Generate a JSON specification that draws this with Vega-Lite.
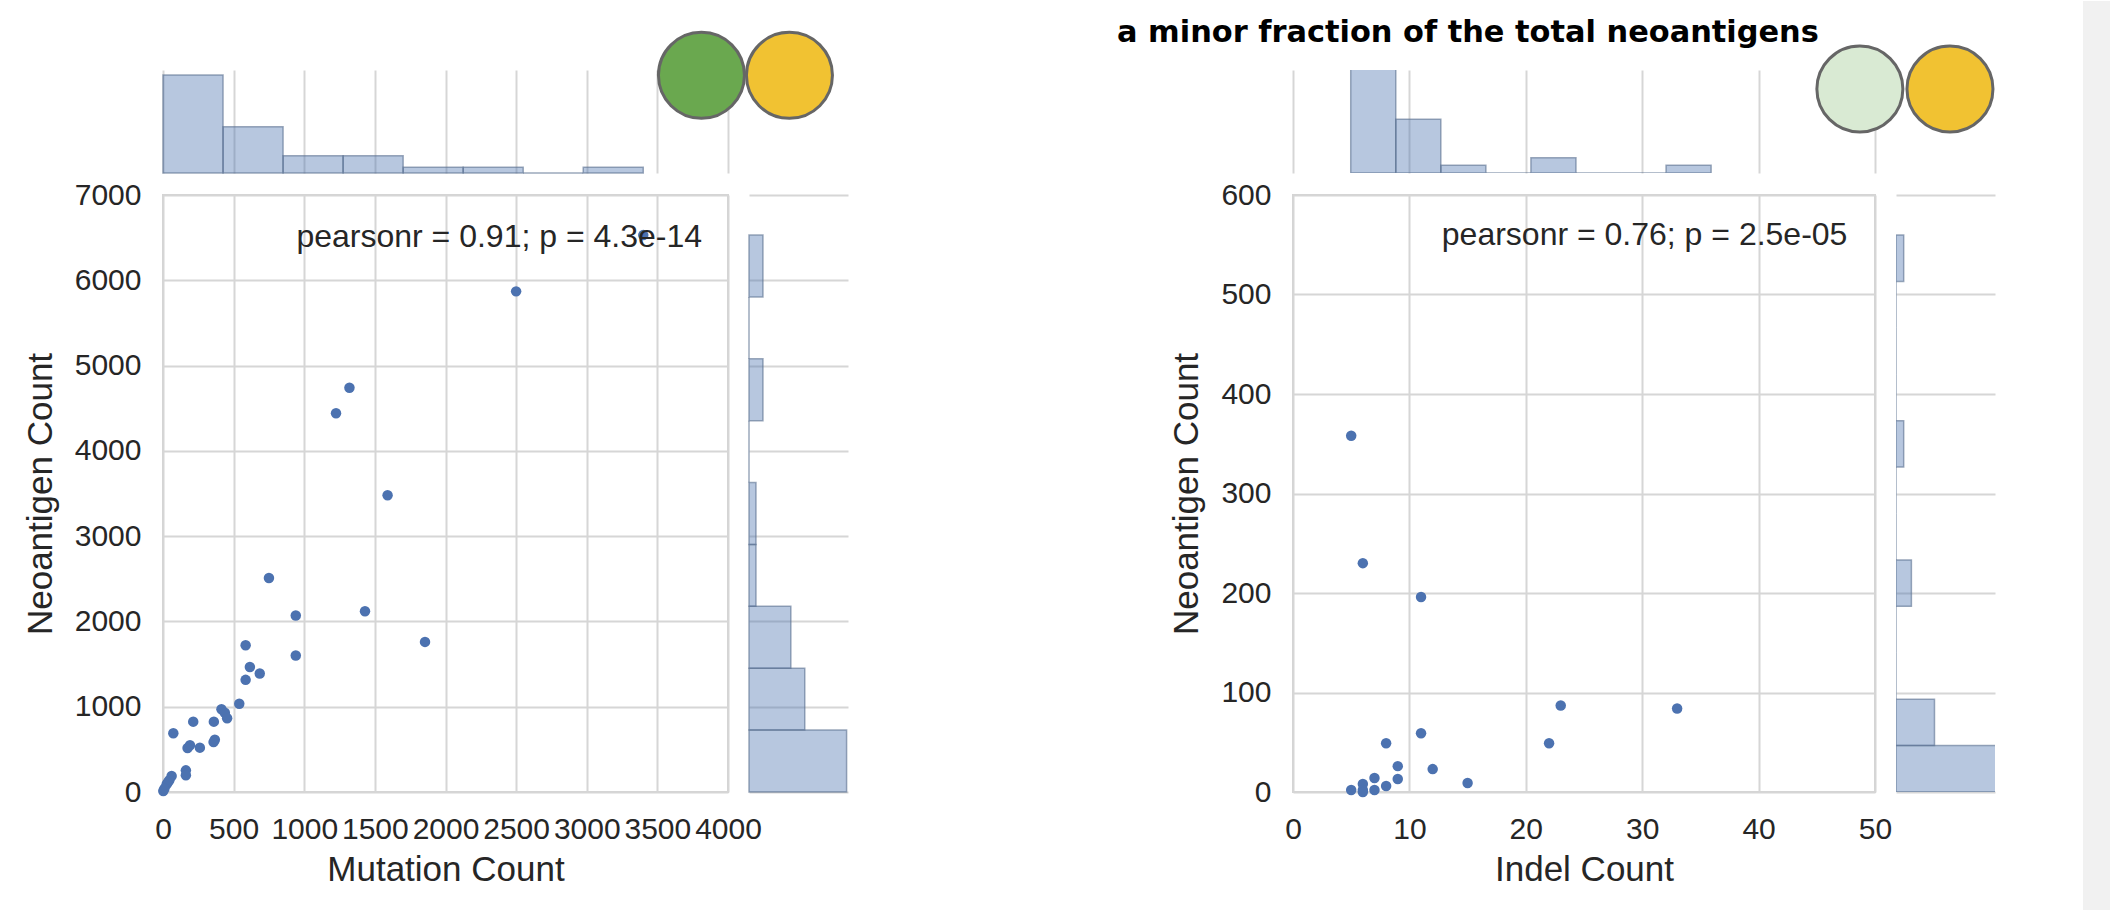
{
  "$schema": "https://vega.github.io/schema/vega-lite/v6.json",
  "background": "white",
  "padding": {"left": 22, "top": 0, "right": 0, "bottom": 0},
  "columns": 5,
  "align": "each",
  "bounds": "flush",
  "spacing": {"row": 22, "column": 21},
  "datasets": {
    "left_points": [
      {"mutation_count": 3400, "neoantigen_count": 6530},
      {"mutation_count": 2500, "neoantigen_count": 5870},
      {"mutation_count": 1320, "neoantigen_count": 4740},
      {"mutation_count": 1225, "neoantigen_count": 4440},
      {"mutation_count": 1590, "neoantigen_count": 3480},
      {"mutation_count": 750, "neoantigen_count": 2510},
      {"mutation_count": 940, "neoantigen_count": 2070},
      {"mutation_count": 1430, "neoantigen_count": 2120},
      {"mutation_count": 1855, "neoantigen_count": 1760},
      {"mutation_count": 940, "neoantigen_count": 1600},
      {"mutation_count": 585, "neoantigen_count": 1720},
      {"mutation_count": 615, "neoantigen_count": 1465},
      {"mutation_count": 685, "neoantigen_count": 1390},
      {"mutation_count": 585, "neoantigen_count": 1315},
      {"mutation_count": 540, "neoantigen_count": 1035},
      {"mutation_count": 414, "neoantigen_count": 970},
      {"mutation_count": 438, "neoantigen_count": 930},
      {"mutation_count": 454, "neoantigen_count": 865},
      {"mutation_count": 360, "neoantigen_count": 825},
      {"mutation_count": 214, "neoantigen_count": 825},
      {"mutation_count": 73, "neoantigen_count": 688},
      {"mutation_count": 367, "neoantigen_count": 612},
      {"mutation_count": 358, "neoantigen_count": 585},
      {"mutation_count": 261, "neoantigen_count": 520},
      {"mutation_count": 191, "neoantigen_count": 548},
      {"mutation_count": 174, "neoantigen_count": 515},
      {"mutation_count": 162, "neoantigen_count": 254},
      {"mutation_count": 162, "neoantigen_count": 196},
      {"mutation_count": 61, "neoantigen_count": 188},
      {"mutation_count": 45, "neoantigen_count": 137},
      {"mutation_count": 26, "neoantigen_count": 90},
      {"mutation_count": 2, "neoantigen_count": 12},
      {"mutation_count": 35, "neoantigen_count": 115},
      {"mutation_count": 10, "neoantigen_count": 40}
    ],
    "left_mut_hist": [
      {"bin_start": 0, "bin_end": 425, "count": 17},
      {"bin_start": 425, "bin_end": 850, "count": 8},
      {"bin_start": 850, "bin_end": 1275, "count": 3},
      {"bin_start": 1275, "bin_end": 1700, "count": 3},
      {"bin_start": 1700, "bin_end": 2125, "count": 1},
      {"bin_start": 2125, "bin_end": 2550, "count": 1},
      {"bin_start": 2550, "bin_end": 2975, "count": 0},
      {"bin_start": 2975, "bin_end": 3400, "count": 1}
    ],
    "left_neo_hist": [
      {"bin_start": 0, "bin_end": 725.6, "count": 14},
      {"bin_start": 725.6, "bin_end": 1451.1, "count": 8},
      {"bin_start": 1451.1, "bin_end": 2176.7, "count": 6},
      {"bin_start": 2176.7, "bin_end": 2902.2, "count": 1},
      {"bin_start": 2902.2, "bin_end": 3627.8, "count": 1},
      {"bin_start": 3627.8, "bin_end": 4353.3, "count": 0},
      {"bin_start": 4353.3, "bin_end": 5078.9, "count": 2},
      {"bin_start": 5078.9, "bin_end": 5804.4, "count": 0},
      {"bin_start": 5804.4, "bin_end": 6530, "count": 2}
    ],
    "right_points": [
      {"indel_count": 5, "neoantigen_count": 358},
      {"indel_count": 6, "neoantigen_count": 230},
      {"indel_count": 11, "neoantigen_count": 196},
      {"indel_count": 23, "neoantigen_count": 87},
      {"indel_count": 33, "neoantigen_count": 84},
      {"indel_count": 11, "neoantigen_count": 59},
      {"indel_count": 8, "neoantigen_count": 49},
      {"indel_count": 22, "neoantigen_count": 49},
      {"indel_count": 9, "neoantigen_count": 26},
      {"indel_count": 12, "neoantigen_count": 23},
      {"indel_count": 15, "neoantigen_count": 9},
      {"indel_count": 7, "neoantigen_count": 14},
      {"indel_count": 9, "neoantigen_count": 13},
      {"indel_count": 6, "neoantigen_count": 8},
      {"indel_count": 8, "neoantigen_count": 6},
      {"indel_count": 5, "neoantigen_count": 2},
      {"indel_count": 6, "neoantigen_count": 2},
      {"indel_count": 7, "neoantigen_count": 2},
      {"indel_count": 6, "neoantigen_count": 0}
    ],
    "right_indel_hist": [
      {"bin_start": 4.96, "bin_end": 8.83, "count": 14},
      {"bin_start": 8.83, "bin_end": 12.7, "count": 7},
      {"bin_start": 12.7, "bin_end": 16.57, "count": 1},
      {"bin_start": 16.57, "bin_end": 20.44, "count": 0},
      {"bin_start": 20.44, "bin_end": 24.31, "count": 2},
      {"bin_start": 24.31, "bin_end": 28.18, "count": 0},
      {"bin_start": 28.18, "bin_end": 32.05, "count": 0},
      {"bin_start": 32.05, "bin_end": 35.92, "count": 1}
    ],
    "right_neo_hist": [
      {"bin_start": 0, "bin_end": 46.65, "count": 16},
      {"bin_start": 46.65, "bin_end": 93.3, "count": 5},
      {"bin_start": 93.3, "bin_end": 139.95, "count": 0},
      {"bin_start": 139.95, "bin_end": 186.6, "count": 0},
      {"bin_start": 186.6, "bin_end": 233.25, "count": 2},
      {"bin_start": 233.25, "bin_end": 279.9, "count": 0},
      {"bin_start": 279.9, "bin_end": 326.55, "count": 0},
      {"bin_start": 326.55, "bin_end": 373.2, "count": 1},
      {"bin_start": 373.2, "bin_end": 419.85, "count": 0},
      {"bin_start": 419.85, "bin_end": 466.5, "count": 0},
      {"bin_start": 466.5, "bin_end": 513.15, "count": 0},
      {"bin_start": 513.15, "bin_end": 559.8, "count": 1}
    ]
  },
  "concat": [
    {
      "width": 565, "height": 103,
      "layer": [
        {
          "data": {"name": "left_mut_hist"},
          "mark": {"type": "rect", "fill": "#4c72b0", "fillOpacity": 0.4, "stroke": "#5a6f8f", "strokeOpacity": 0.6, "strokeWidth": 1.5},
          "encoding": {
            "x": {"field": "bin_start", "type": "quantitative", "scale": {"domain": [0, 4000], "nice": false, "zero": false},
                  "axis": {"values": [0, 500, 1000, 1500, 2000, 2500, 3000, 3500, 4000], "labels": false, "title": null, "grid": true}},
            "x2": {"field": "bin_end"},
            "y": {"field": "count", "type": "quantitative", "scale": {"domain": [0, 17.85], "nice": false}, "axis": null},
            "y2": {"datum": 0}
          }
        },
        {
          "data": {"values": [{}]},
          "mark": {"type": "point", "shape": "circle", "filled": true, "fill": "#6aa84f", "stroke": "#666666", "strokeWidth": 3, "size": 7396, "opacity": 1, "fillOpacity": 1, "strokeOpacity": 1},
          "encoding": {"x": {"datum": 3812, "type": "quantitative"}, "y": {"datum": 16.93, "type": "quantitative"}}
        },
        {
          "data": {"values": [{}]},
          "mark": {"type": "point", "shape": "circle", "filled": true, "fill": "#f1c232", "stroke": "#666666", "strokeWidth": 3, "size": 7396, "opacity": 1, "fillOpacity": 1, "strokeOpacity": 1},
          "encoding": {"x": {"datum": 4435, "type": "quantitative"}, "y": {"datum": 16.93, "type": "quantitative"}}
        }
      ]
    },
    {"width": 1, "height": 1, "data": {"values": []}, "mark": {"type": "point", "opacity": 0}},
    {"width": 403, "height": 1, "data": {"values": []}, "mark": {"type": "point", "opacity": 0}},
    {
      "width": 582, "height": 103,
      "layer": [
        {
          "data": {"name": "right_indel_hist"},
          "mark": {"type": "rect", "clip": true, "fill": "#4c72b0", "fillOpacity": 0.4, "stroke": "#5a6f8f", "strokeOpacity": 0.6, "strokeWidth": 1.5},
          "encoding": {
            "x": {"field": "bin_start", "type": "quantitative", "scale": {"domain": [0, 50], "nice": false, "zero": false},
                  "axis": {"values": [0, 10, 20, 30, 40, 50], "labels": false, "title": null, "grid": true}},
            "x2": {"field": "bin_end"},
            "y": {"field": "count", "type": "quantitative", "scale": {"domain": [0, 13.4], "nice": false}, "axis": null},
            "y2": {"datum": 0}
          }
        },
        {
          "data": {"values": [{}]},
          "mark": {"type": "point", "shape": "circle", "filled": true, "fill": "#d9ead3", "stroke": "#666666", "strokeWidth": 3, "size": 7396, "opacity": 1, "fillOpacity": 1, "strokeOpacity": 1},
          "encoding": {"x": {"datum": 48.7, "type": "quantitative"}, "y": {"datum": 10.93, "type": "quantitative"}}
        },
        {
          "data": {"values": [{}]},
          "mark": {"type": "point", "shape": "circle", "filled": true, "fill": "#f1c232", "stroke": "#666666", "strokeWidth": 3, "size": 7396, "opacity": 1, "fillOpacity": 1, "strokeOpacity": 1},
          "encoding": {"x": {"datum": 56.44, "type": "quantitative"}, "y": {"datum": 10.93, "type": "quantitative"}}
        },
        {
          "data": {"values": [{}]},
          "mark": {"type": "text", "text": "a minor fraction of the total neoantigens", "align": "left", "baseline": "alphabetic", "font": "DejaVu Sans", "fontSize": 30.4, "fontWeight": "bold", "color": "#000000"},
          "encoding": {"x": {"datum": -15.12, "type": "quantitative"}, "y": {"datum": 16.98, "type": "quantitative"}}
        }
      ]
    },
    {"width": 1, "height": 1, "data": {"values": []}, "mark": {"type": "point", "opacity": 0}},
    {
      "width": 565, "height": 597,
      "view": {"stroke": "#d4d4d4", "strokeWidth": 2},
      "layer": [
        {
          "data": {"name": "left_points"},
          "mark": {"type": "circle", "size": 110, "color": "#4c72b0", "opacity": 1},
          "encoding": {
            "x": {"field": "mutation_count", "type": "quantitative", "scale": {"domain": [0, 4000], "nice": false},
                  "axis": {"values": [0, 500, 1000, 1500, 2000, 2500, 3000, 3500, 4000], "format": "d", "title": "Mutation Count", "grid": true, "labelPadding": 22, "titlePadding": 8}},
            "y": {"field": "neoantigen_count", "type": "quantitative", "scale": {"domain": [0, 7000], "nice": false},
                  "axis": {"values": [0, 1000, 2000, 3000, 4000, 5000, 6000, 7000], "format": "d", "title": "Neoantigen Count", "grid": true, "labelPadding": 22, "titlePadding": 16}}
          }
        },
        {
          "data": {"values": [{}]},
          "mark": {"type": "text", "text": "pearsonr = 0.91; p = 4.3e-14", "align": "right", "baseline": "alphabetic", "font": "Liberation Sans", "fontSize": 32, "color": "#262626"},
          "encoding": {"x": {"datum": 3816, "type": "quantitative"}, "y": {"datum": 6390, "type": "quantitative"}}
        }
      ]
    },
    {
      "width": 99, "height": 597,
      "data": {"name": "left_neo_hist"},
      "mark": {"type": "rect", "fill": "#4c72b0", "fillOpacity": 0.4, "stroke": "#5a6f8f", "strokeOpacity": 0.6, "strokeWidth": 1.5},
      "encoding": {
        "y": {"field": "bin_start", "type": "quantitative", "scale": {"domain": [0, 7000], "nice": false, "zero": false},
              "axis": {"values": [0, 1000, 2000, 3000, 4000, 5000, 6000, 7000], "labels": false, "title": null, "grid": true}},
        "y2": {"field": "bin_end"},
        "x": {"field": "count", "type": "quantitative", "scale": {"domain": [0, 14.2], "nice": false}, "axis": null},
        "x2": {"datum": 0}
      }
    },
    {"width": 403, "height": 1, "data": {"values": []}, "mark": {"type": "point", "opacity": 0}},
    {
      "width": 582, "height": 597,
      "view": {"stroke": "#d4d4d4", "strokeWidth": 2},
      "layer": [
        {
          "data": {"name": "right_points"},
          "mark": {"type": "circle", "size": 110, "color": "#4c72b0", "opacity": 1},
          "encoding": {
            "x": {"field": "indel_count", "type": "quantitative", "scale": {"domain": [0, 50], "nice": false},
                  "axis": {"values": [0, 10, 20, 30, 40, 50], "format": "d", "title": "Indel Count", "grid": true, "labelPadding": 22, "titlePadding": 8}},
            "y": {"field": "neoantigen_count", "type": "quantitative", "scale": {"domain": [0, 600], "nice": false},
                  "axis": {"values": [0, 100, 200, 300, 400, 500, 600], "format": "d", "title": "Neoantigen Count", "grid": true, "labelPadding": 22, "titlePadding": 16}}
          }
        },
        {
          "data": {"values": [{}]},
          "mark": {"type": "text", "text": "pearsonr = 0.76; p = 2.5e-05", "align": "right", "baseline": "alphabetic", "font": "Liberation Sans", "fontSize": 32, "color": "#262626"},
          "encoding": {"x": {"datum": 47.63, "type": "quantitative"}, "y": {"datum": 549.4, "type": "quantitative"}}
        }
      ]
    },
    {
      "width": 99, "height": 597,
      "layer": [
        {
          "data": {"name": "right_neo_hist"},
          "mark": {"type": "rect", "clip": true, "fill": "#4c72b0", "fillOpacity": 0.4, "stroke": "#5a6f8f", "strokeOpacity": 0.6, "strokeWidth": 1.5},
          "encoding": {
            "y": {"field": "bin_start", "type": "quantitative", "scale": {"domain": [0, 600], "nice": false, "zero": false},
                  "axis": {"values": [0, 100, 200, 300, 400, 500, 600], "labels": false, "title": null, "grid": true}},
            "y2": {"field": "bin_end"},
            "x": {"field": "count", "type": "quantitative", "scale": {"domain": [0, 12.86], "nice": false}, "axis": null},
            "x2": {"datum": 0}
          }
        },
        {
          "data": {"values": [{}]},
          "mark": {"type": "rect", "fill": "#f1f1f1", "stroke": null},
          "encoding": {
            "x": {"datum": 24.29, "type": "quantitative"},
            "x2": {"datum": 29.5},
            "y": {"datum": 795, "type": "quantitative"},
            "y2": {"datum": -120}
          }
        }
      ]
    }
  ],
  "config": {
    "font": "Liberation Sans",
    "view": {"stroke": null},
    "axis": {
      "labelFont": "Liberation Sans", "labelFontSize": 30, "labelColor": "#262626",
      "labelFlush": false, "labelOverlap": false,
      "titleFont": "Liberation Sans", "titleFontSize": 35, "titleColor": "#262626", "titleFontWeight": "normal",
      "ticks": false, "domain": false,
      "gridColor": "#d6d6d6", "gridWidth": 2, "gridOpacity": 1
    }
  }
}
